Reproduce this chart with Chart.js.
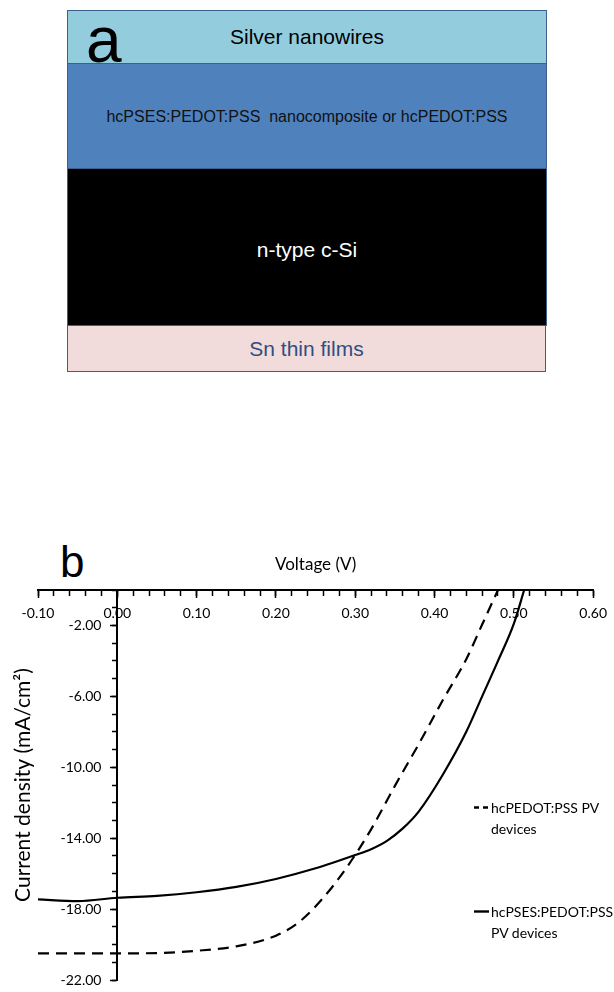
<!DOCTYPE html>
<html>
<head>
<meta charset="utf-8">
<script src="https://cdn.jsdelivr.net/npm/chart.js@4.4.1/dist/chart.umd.min.js"></script>
<style>
  html, body { margin: 0; padding: 0; background: #fff; }
  body { width: 614px; height: 992px; position: relative; overflow: hidden; font-family: "Liberation Sans", Arial, sans-serif; }
  .stack { position: absolute; left: 67px; top: 10px; width: 480px; }
  .layer { box-sizing: border-box; border: 1px solid #3d5f8e; border-top: none; display: flex; align-items: center; justify-content: center; }
  .layer:first-child { border-top: 1px solid #3d5f8e; }
  .silver { height: 54px; background: #93cddd; color: #000; font-size: 21px; }
  .pedot { height: 105px; background: #4f81bd; color: #111; font-size: 16px; white-space: pre; padding-top: 1px; }
  .si { height: 157px; background: #000; color: #fff; font-size: 21px; padding-top: 5px; }
  .sn { height: 46px; background: #f2dcdb; color: #2f4e7f; font-size: 21px; width: 479px; }
  .panel { position: absolute; font-family: "Liberation Sans", Arial, sans-serif; line-height: 1; color: #000; }
  #wrap { position: absolute; left: 0; top: 520px; width: 614px; height: 472px; }
  .legend-item { position: absolute; display: flex; align-items: flex-start; font-family: Lato, sans-serif; font-size: 14px; line-height: 21px; color: #000; }
  .legend-item svg { display: block; margin-right: 1px; }
</style>
</head>
<body>
<div class="stack">
  <div class="layer silver">Silver nanowires</div>
  <div class="layer pedot">hcPSES:PEDOT:PSS  nanocomposite or hcPEDOT:PSS</div>
  <div class="layer si">n-type c-Si</div>
  <div class="layer sn">Sn thin films</div>
</div>
<div class="panel" style="left:86px; top:8px; font-size:64px;">a</div>
<div class="panel" style="left:60px; top:540px; font-size:44px;">b</div>

<div id="wrap"><canvas id="jv-chart" width="614" height="472"></canvas></div>
<div id="legend"></div>

<script>
// J-V curves (V in volts, J in mA/cm2)
const voltsPedot = [-0.10, -0.05, 0.00, 0.05, 0.10, 0.15, 0.20, 0.23, 0.26, 0.29, 0.32, 0.35, 0.38, 0.41, 0.44, 0.46, 0.48];
const jPedot = [-20.5, -20.5, -20.5, -20.48, -20.35, -20.1, -19.5, -18.7, -17.35, -15.6, -13.5, -11.05, -8.7, -6.25, -3.9, -1.95, 0];

const voltsPses = [-0.10, -0.05, 0.00, 0.05, 0.10, 0.15, 0.20, 0.25, 0.30, 0.32, 0.34, 0.36, 0.38, 0.41, 0.44, 0.46, 0.48, 0.50, 0.513];
const jPses = [-17.45, -17.55, -17.36, -17.25, -17.05, -16.75, -16.3, -15.7, -14.95, -14.62, -14.15, -13.45, -12.5, -10.45, -8.0, -6.0, -4.0, -1.9, 0];

const seriesLabels = [["hcPEDOT:PSS PV", "devices"], ["hcPSES:PEDOT:PSS", "PV devices"]];

const xMajorTicks = [-0.10, 0.00, 0.10, 0.20, 0.30, 0.40, 0.50, 0.60];
const yMajorTicks = [-2, -6, -10, -14, -18, -22];
const yLabelAnchor = -0.02; // y tick labels sit just left of the V = 0 axis

const xMinorTicks = [];
for (let i = -5; i <= 30; i++) xMinorTicks.push(i * 0.02);
const yMinorTicks = [];
for (let i = 0; i >= -22; i--) yMinorTicks.push(i);

const toPoints = (xs, ys) => xs.map((x, i) => ({ x: x, y: ys[i] }));
const tickFont = { family: "Lato", size: 14 };
const setTicks = values => axis => { axis.ticks = values.map(v => ({ value: v })); };
const noGrid = { display: false, drawTicks: false };

const ctx = document.getElementById("jv-chart").getContext("2d");

const chart = new Chart(ctx, {
  type: "line",
  data: {
    datasets: [
      {
        label: seriesLabels[0].join(" "),
        data: toPoints(voltsPedot, jPedot),
        borderColor: "#000",
        borderWidth: 2.2,
        borderDash: [11, 7],
        pointRadius: 0,
        tension: 0.4,
        cubicInterpolationMode: "monotone",
        xAxisID: "x",
        yAxisID: "y",
      },
      {
        label: seriesLabels[1].join(" "),
        data: toPoints(voltsPses, jPses),
        borderColor: "#000",
        borderWidth: 2.2,
        pointRadius: 0,
        tension: 0.4,
        cubicInterpolationMode: "monotone",
        xAxisID: "x",
        yAxisID: "y",
      },
    ],
  },
  options: {
    responsive: false,
    animation: false,
    layout: { padding: { top: 34.8, left: 10.4, right: 16, bottom: 12 } },
    plugins: {
      legend: { display: false },
      tooltip: { enabled: false },
    },
    scales: {
      x: {
        type: "linear",
        axis: "x",
        position: { y: 0 },
        min: -0.1,
        max: 0.6,
        afterBuildTicks: setTicks(xMinorTicks),
        grid: { display: true, drawOnChartArea: false, drawTicks: true, tickLength: 5, tickWidth: 1.5, tickColor: "#000" },
        border: { display: true, color: "#000", width: 2 },
        ticks: { display: false },
      },
      x2: {
        type: "linear",
        axis: "x",
        position: { y: 0 },
        min: -0.1,
        max: 0.6,
        afterBuildTicks: setTicks(xMajorTicks),
        grid: { display: true, drawOnChartArea: false, drawTicks: true, tickLength: 8, tickWidth: 1.5, tickColor: "#000" },
        border: { display: false },
        ticks: {
          color: "#000",
          font: tickFont,
          padding: 7,
          autoSkip: false,
          maxRotation: 0,
          callback: v => v.toFixed(2),
        },
      },
      y: {
        type: "linear",
        axis: "y",
        position: { x: 0 },
        min: -22,
        max: 0,
        afterBuildTicks: setTicks(yMinorTicks),
        grid: { display: true, drawOnChartArea: false, drawTicks: true, tickLength: 4, tickWidth: 1.5, tickColor: "#000" },
        border: { display: true, color: "#000", width: 2 },
        ticks: { display: false },
      },
      y2: {
        type: "linear",
        axis: "y",
        position: { x: 0 },
        min: -22,
        max: 0,
        afterBuildTicks: setTicks(yMajorTicks),
        grid: { display: true, drawOnChartArea: false, drawTicks: true, tickLength: 7, tickWidth: 1.5, tickColor: "#000" },
        border: { display: false },
        ticks: { display: false },
      },
      yLabels: {
        type: "linear",
        axis: "y",
        position: { x: yLabelAnchor },
        min: -22,
        max: 0,
        afterBuildTicks: setTicks(yMajorTicks),
        grid: noGrid,
        border: { display: false },
        ticks: {
          color: "#000",
          font: tickFont,
          padding: 0,
          autoSkip: false,
          callback: v => v.toFixed(2),
        },
      },
      xt: {
        type: "linear",
        axis: "x",
        position: "top",
        min: 0,
        max: 1,
        grid: noGrid,
        border: { display: false },
        ticks: { display: false },
        title: { display: true, text: "Voltage (V)", color: "#000", font: { family: "Lato", size: 17 }, padding: { top: 0, bottom: 14.8 } },
      },
      yt: {
        type: "linear",
        axis: "y",
        position: "left",
        min: 0,
        max: 1,
        grid: noGrid,
        border: { display: false },
        ticks: { display: false },
        title: { display: true, text: "Current density (mA/cm²)", color: "#000", font: { family: "Lato", size: 21 }, padding: { top: 0, bottom: 2.4 } },
      },
    },
  },
});

// legend kept as html text, placed beside the curves
const legendSpots = [{ left: 473, top: 797, dash: "5,4" }, { left: 473, top: 901, dash: "" }];
const legendBox = document.getElementById("legend");
seriesLabels.forEach((lines, i) => {
  const spot = legendSpots[i];
  const item = document.createElement("div");
  item.className = "legend-item";
  item.style.left = spot.left + "px";
  item.style.top = spot.top + "px";
  item.innerHTML =
    '<svg width="17" height="21"><line x1="1" y1="10.5" x2="16" y2="10.5" stroke="#000" stroke-width="2.4"' +
    (spot.dash ? ' stroke-dasharray="' + spot.dash + '"' : "") + "/></svg>" +
    "<div>" + lines.join("<br>") + "</div>";
  legendBox.appendChild(item);
});
</script>
</body>
</html>
